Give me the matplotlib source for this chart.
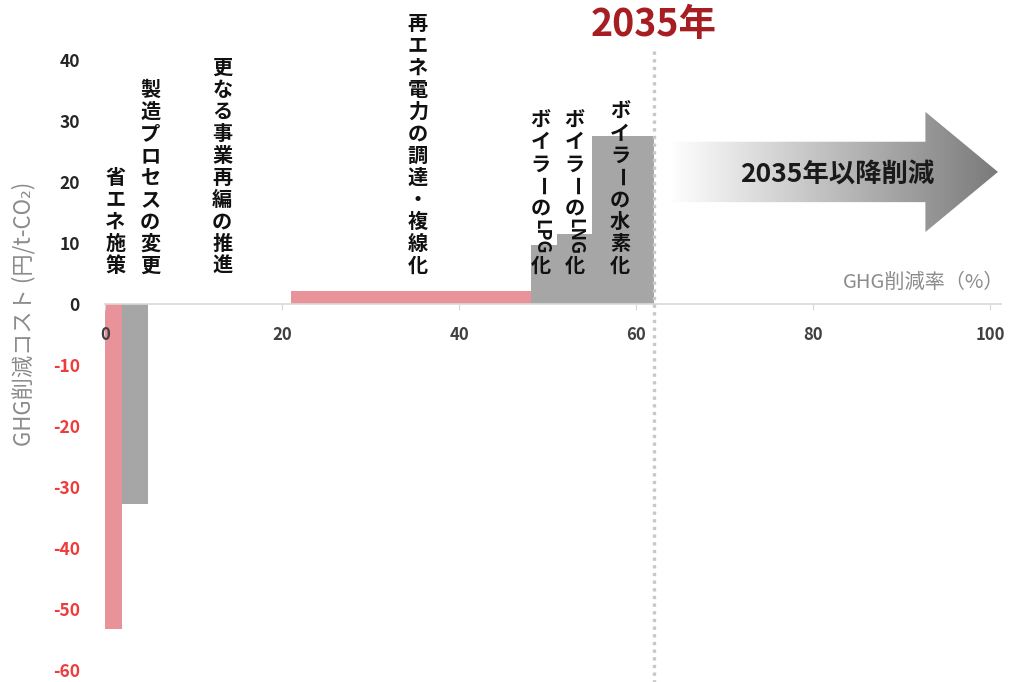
import numpy as np
import matplotlib
matplotlib.use("Agg")
import matplotlib.pyplot as plt
from matplotlib.patches import Polygon
from matplotlib.colors import LinearSegmentedColormap

plt.rcParams['font.family'] = ['Noto Sans CJK JP', 'DejaVu Sans']

# ---------------- data ----------------
measures = ['省エネ施策', '製造プロセスの変更', '更なる事業再編の推進',
            '再エネ電力の調達・複線化', 'ボイラーのLPG化', 'ボイラーのLNG化',
            'ボイラーの水素化']
reduction = [1.9, 3.0, 16.1, 27.1, 3.0, 3.9, 7.0]       # GHG削減率 (%) per measure
cost = [-53.2, -32.8, 0.0, 2.1, 9.6, 11.4, 27.6]         # 円/t-CO2
bar_kind = ['pink', 'grey', 'grey', 'pink', 'grey', 'grey', 'grey']
x_ticks = [0, 20, 40, 60, 80, 100]
y_ticks = [-60, -50, -40, -30, -20, -10, 0, 10, 20, 30, 40]
year_label = '2035年'
arrow_label = '2035年以降削減'
x_label = 'GHG削減率（%）'
y_label = 'GHG削減コスト (円/t-CO₂)'

# ---------------- style ----------------
colors = {'pink': '#e8939a', 'grey': '#a6a6a6'}
label_dx = [0.2, 1.7, 0.3, 0.8, -0.4, 0.0, -0.3]

W, H = 1010, 682
fig = plt.figure(figsize=(W / 100, H / 100), dpi=100)
ax = fig.add_axes([105 / W, 12 / H, 101.2 * 8.85 / W, 610 / H])
ax.set_xlim(0, 101.2)
ax.set_ylim(-60, 40)

lefts = np.concatenate([[0], np.cumsum(reduction)[:-1]])
ax.bar(lefts, cost, width=reduction, align='edge',
       color=[colors[k] for k in bar_kind], linewidth=0, zorder=1)

# spines / ticks
for s in ['top', 'right', 'left']:
    ax.spines[s].set_visible(False)
ax.spines['bottom'].set_position(('data', 0))
ax.spines['bottom'].set_color('#d9d9d9')
ax.spines['bottom'].set_linewidth(1.2)
ax.set_xticks(x_ticks)
ax.set_xticklabels([str(v) for v in x_ticks], fontsize=12, fontweight='bold',
                   color='#404040')
ax.tick_params(axis='x', direction='out', length=4, color='#d9d9d9', pad=12)
ax.set_yticks(y_ticks)
ax.set_yticklabels([str(v) for v in y_ticks], fontsize=12.5, fontweight='bold')
ax.tick_params(axis='y', length=0, pad=18)
for lab, v in zip(ax.get_yticklabels(), y_ticks):
    lab.set_color('#ee3b3b' if v < 0 else '#262626')

# target dotted line
target = float(np.sum(reduction))
ax.plot([target, target], [-62.5, 42], linestyle=(0, (1, 1.3)), lw=2.4,
        color='#c8c8c8', clip_on=False, zorder=3)
ax.text(target, 45.8, year_label, ha='center', va='center', fontsize=27,
        fontweight='bold', color='#a61e22', clip_on=False)


# vertical labels
def vertical_label(x, text, bottom_y, fs=14.5, adv_px=22.0):
    tokens = []
    i = 0
    while i < len(text):
        c = text[i]
        if c.isascii() and c.isalpha():
            j = i
            while j < len(text) and text[j].isascii() and text[j].isalpha():
                j += 1
            tokens.append((text[i:j], 'latin'))
            i = j
        elif c == 'ー':
            tokens.append((c, 'rot'))
            i += 1
        else:
            tokens.append((c, 'cjk'))
            i += 1
    px2pt = 72.0 / 100.0
    y = 0.0
    for tok, kind in reversed(tokens):
        if kind == 'latin':
            size = fs * 0.9
            h = len(tok) * size / px2pt * 0.6 + 3
        else:
            size = fs
            h = adv_px
        center = y + h / 2
        ax.annotate(tok, xy=(x, bottom_y), xytext=(0, center * px2pt),
                    textcoords='offset points', ha='center', va='center',
                    rotation=0 if kind == 'cjk' else -90, fontsize=size,
                    fontweight='bold', color='#111111', annotation_clip=False,
                    zorder=4)
        y += h


for lft, w, name, dx in zip(lefts, reduction, measures, label_dx):
    vertical_label(lft + w / 2 + dx, name, 4.5)

# gradient arrow
x0, xh, xt = 63.8, 92.7, 100.9
ys_t, ys_b = 26.6, 16.7
yh_t, yh_b = 31.5, 11.8
ymid = (yh_t + yh_b) / 2
arrow = Polygon([[x0, ys_b], [xh, ys_b], [xh, yh_b], [xt, ymid], [xh, yh_t],
                 [xh, ys_t], [x0, ys_t]], closed=True, facecolor='none',
                edgecolor='none', transform=ax.transData)
ax.add_patch(arrow)
cmap = LinearSegmentedColormap.from_list('g', ['#ffffff', '#7a7a7a'])
grad = np.linspace(0, 1, 256).reshape(1, -1)
im = ax.imshow(grad, cmap=cmap, extent=[x0, xt, yh_b, yh_t], aspect='auto',
               zorder=2, interpolation='bilinear')
im.set_clip_path(arrow)
ax.set_xlim(0, 101.2)
ax.set_ylim(-60, 40)
ax.text(82.7, 21.2, arrow_label, ha='center', va='center', fontsize=19,
        fontweight='bold', color='#1a1a1a', zorder=5)

# axis titles
ax.text(101.6, 3.6, x_label, ha='right', va='center', fontsize=14.5,
        color='#8c8c8c', clip_on=False)
fig.text(24 / W, 1 - 314 / H, y_label, rotation=90, ha='center', va='center',
         fontsize=16, color='#8c8c8c')

fig.savefig('out.png', dpi=100)
